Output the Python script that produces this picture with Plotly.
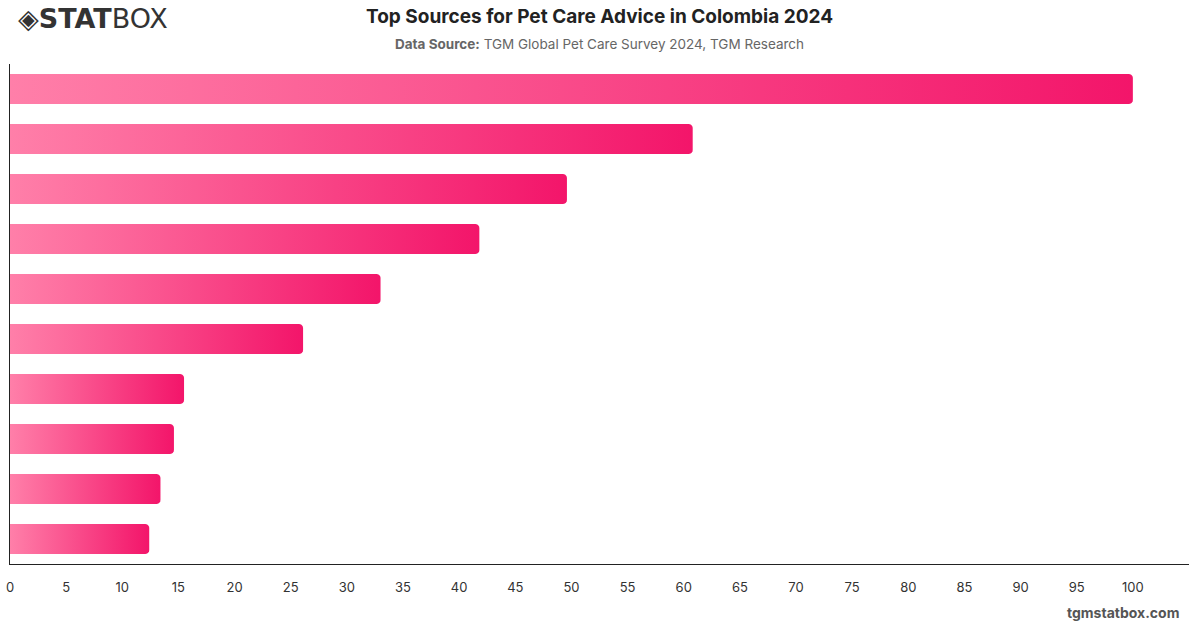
import plotly.graph_objects as go
import numpy as np

categories = [
    "Veterinarian", "Internet search", "Family and friends", "Pet store staff",
    "Social media", "Pet food brand websites", "Breeders", "Online forums",
    "Books and magazines", "TV programs",
]
values = [100.0, 60.8, 49.6, 41.8, 33.0, 26.1, 15.5, 14.6, 13.4, 12.4]
x_ticks = list(range(0, 105, 5))

fig = go.Figure()

half = 0.3          # half bar thickness in category units
px_x = 1179 / 105   # pixels per x unit (for corner rounding)
px_y = 500 / 10     # pixels per category
r = 4.0
rx, ry = r / px_x, r / px_y

for i, (cat, v) in enumerate(zip(categories, values)):
    y0, y1 = i - half, i + half
    xs = [0, v - rx]
    ys = [y0, y0]
    for a in np.linspace(-np.pi / 2, 0, 6):
        xs.append(v - rx + rx * np.cos(a))
        ys.append(y0 + ry + ry * np.sin(a))
    for a in np.linspace(0, np.pi / 2, 6):
        xs.append(v - rx + rx * np.cos(a))
        ys.append(y1 - ry + ry * np.sin(a))
    xs += [0, 0]
    ys += [y1, y0]
    fig.add_trace(go.Scatter(
        x=xs, y=ys, mode="none", fill="toself",
        fillgradient=dict(type="horizontal",
                          colorscale=[[0, "#ff7fa9"], [1, "#f3156a"]]),
        name=cat, hoverinfo="text", text=f"{cat}: {v}", showlegend=False,
    ))

fig.update_layout(
    width=1200, height=628,
    margin=dict(l=10, r=11, t=64, b=64),
    paper_bgcolor="white", plot_bgcolor="white",
    font=dict(family="Inter, Roboto, sans-serif", color="#333"),
    showlegend=False,
)
fig.update_xaxes(
    range=[0, 105], tickvals=x_ticks, ticktext=[str(t) for t in x_ticks],
    showgrid=False, zeroline=False, showline=True, linecolor="#222", linewidth=1,
    ticks="outside", ticklen=11, tickcolor="rgba(0,0,0,0)",
    tickfont=dict(size=13, color="#333"), automargin=False,
)
fig.update_yaxes(
    range=[9.5, -0.5], tickvals=list(range(len(categories))), ticktext=categories,
    showticklabels=False, showgrid=False, zeroline=False,
    showline=True, linecolor="#222", linewidth=1, automargin=False,
)

fig.add_annotation(
    text="<b>Top Sources for Pet Care Advice in Colombia 2024</b>",
    xref="paper", yref="paper", x=0.5, xanchor="center", y=1, yanchor="bottom",
    yshift=34, showarrow=False, font=dict(size=19, color="#222"),
)
fig.add_annotation(
    text="<b>Data Source:</b> TGM Global Pet Care Survey 2024, TGM Research",
    xref="paper", yref="paper", x=0.5, xanchor="center", y=1, yanchor="bottom",
    yshift=10, showarrow=False, font=dict(size=13.5, color="#666"),
)
fig.add_annotation(
    text="<b>◈STAT</b>BOX",
    xref="paper", yref="paper", x=0, xanchor="left", y=1, yanchor="bottom",
    xshift=6, yshift=28, showarrow=False,
    font=dict(size=27, color="#333", family="DejaVu Sans, sans-serif"),
)
fig.add_annotation(
    text="<b>tgmstatbox.com</b>",
    xref="paper", yref="paper", x=1, xanchor="right", y=0, yanchor="top",
    xshift=-8, yshift=-38, showarrow=False,
    font=dict(size=14, color="#555"),
)

fig.write_html("out.html")
